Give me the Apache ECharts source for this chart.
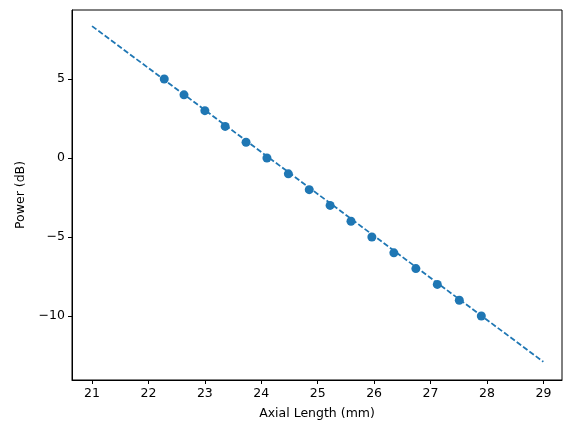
<!DOCTYPE html>
<html><head><meta charset="utf-8">
<script src="https://cdn.jsdelivr.net/npm/echarts@6/dist/echarts.min.js"></script>
<style>html,body{margin:0;padding:0;background:#fff}#c{width:574px;height:432px}</style>
</head><body><div id="c"></div>
<script>
const axialLength = [22.28,22.63,23.00,23.36,23.73,24.10,24.48,24.85,25.22,25.59,25.96,26.35,26.74,27.12,27.51,27.90];
const power = [5,4,3,2,1,0,-1,-2,-3,-4,-5,-6,-7,-8,-9,-10];
const fitX = [21, 29];
const fitY = [8.35, -12.9];
const xTicks = [21,22,23,24,25,26,27,28,29];
const yTicks = [-10,-5,0,5];

const font = {fontFamily:'DejaVu Sans', fontSize:12.5, color:'#000'};
const chart = echarts.init(document.getElementById('c'), null, {renderer:'canvas'});
chart.setOption({
  animation:false,
  grid:{left:72,right:12,top:10,bottom:52,show:true,borderColor:'#000',borderWidth:1,backgroundColor:'transparent'},
  xAxis:{type:'value',min:20.645,max:29.33,
    name:'Axial Length (mm)',nameLocation:'middle',nameGap:27,nameTextStyle:font,
    axisLine:{onZero:false,lineStyle:{color:'#000'}},splitLine:{show:false},
    axisTick:{inside:false,customValues:xTicks,length:4,lineStyle:{color:'#000'}},
    axisLabel:Object.assign({customValues:xTicks,margin:7},font)},
  yAxis:{type:'value',min:-14.05,max:9.37,
    name:'Power (dB)',nameLocation:'middle',nameGap:44,nameRotate:90,nameTextStyle:font,
    axisLine:{show:true,onZero:false,lineStyle:{color:'#000'}},splitLine:{show:false},
    axisTick:{show:true,inside:false,customValues:yTicks,length:4,lineStyle:{color:'#000'}},
    axisLabel:Object.assign({customValues:yTicks,margin:7,formatter:v=>String(v).replace('-','\u2212')},font)},
  series:[
    {type:'line',data:fitX.map((x,i)=>[x,fitY[i]]),symbol:'none',
     lineStyle:{color:'#1f77b4',width:1.8,type:[5.5,2.4]}},
    {type:'scatter',data:axialLength.map((x,i)=>[x,power[i]]),symbolSize:9,
     itemStyle:{color:'#1f77b4',opacity:1}}
  ]
});
</script></body></html>
